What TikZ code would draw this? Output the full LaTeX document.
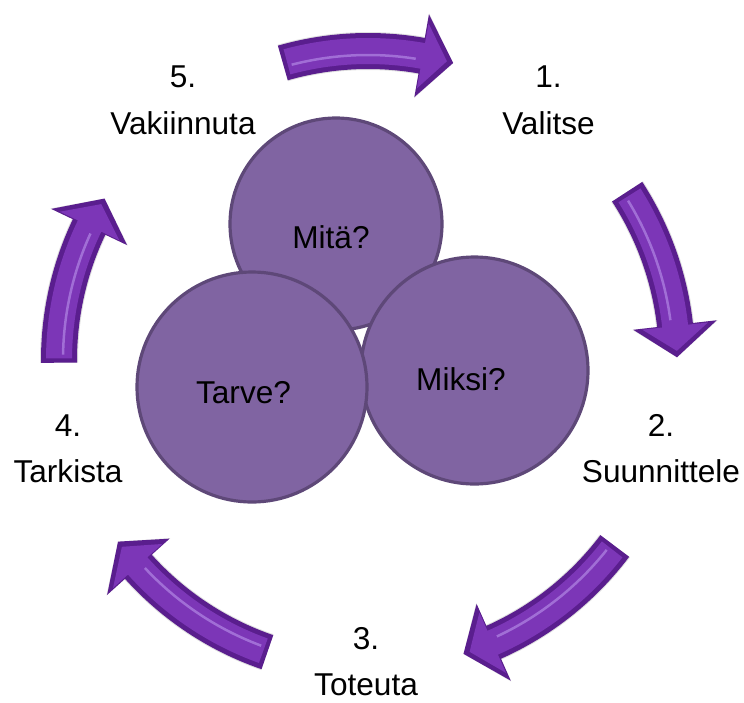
\documentclass[tikz,border=0pt]{standalone}
\usepackage{fontspec}
\setmainfont{Liberation Sans}
\usetikzlibrary{calc}

\definecolor{ringfill}{HTML}{8064A2}
\definecolor{ringline}{HTML}{5E4878}
\definecolor{arrowdark}{HTML}{5A1E8E}
\definecolor{arrowbody}{HTML}{7C36B7}
\definecolor{arrowlight}{HTML}{A878DC}

\tikzset{
  steplabel/.style={align=center, inner sep=0pt, text=black,
    font=\fontsize{31.6}{46.5}\selectfont},
  ring/.style={circle, draw=ringline, line width=3.2pt, fill=ringfill,
    inner sep=0pt},
  ringtext/.style={anchor=base, inner sep=0pt, text=black,
    font=\fontsize{31.6}{38}\selectfont},
}

% curved block arrow around (C): #1 tail angle, #2 tip angle,
% #3 shaft half width, #4 head half width, #5 head length (deg)
\newcommand\ringarrowpath[5]{%
  (C) ++(#1:309pt+#3) arc[start angle=#1, end angle=#2+#5, radius=309pt+#3]
  -- ($(C)+(#2+#5:309pt+#4)$) -- ($(C)+(#2:309pt)$)
  -- ($(C)+(#2+#5:309pt-#4)$) -- ($(C)+(#2+#5:309pt-#3)$)
  arc[start angle=#2+#5, end angle=#1, radius=309pt-#3] -- cycle}

\newcommand\ringarrow[2]{%
  \fill[black, opacity=0.12, shift={(2pt,-5pt)}] \ringarrowpath{#1}{#2}{19pt}{43pt}{6};
  \fill[arrowdark] \ringarrowpath{#1}{#2}{18pt}{42pt}{6};
  \fill[arrowbody] \ringarrowpath{#1-0.8}{#2+1.2}{13pt}{33pt}{4.6};
  \draw[arrowlight, line width=2.5pt, opacity=0.85]
    (C) ++(#1-1.5:305pt) arc[start angle=#1-1.5, end angle=#2+7, radius=305pt];
}

\begin{document}
\begin{tikzpicture}[x=1pt, y=1pt]
  \useasboundingbox (0,0) rectangle (744,-702);
  \coordinate (C) at (368,-360);

  % cycle arrows, clockwise
  \ringarrow{106}{74}
  \ringarrow{33}{0.5}
  \ringarrow{-37}{-72}
  \ringarrow{-109}{-144}
  \ringarrow{-179.5}{-211.5}

  % step labels
  \node[steplabel] (s1) at (548.5,-100.2) {1.\\Valitse};
  \node[steplabel] (s2) at (661,-448.7) {2.\\Suunnittele};
  \node[steplabel] (s3) at (366,-661.5) {3.\\Toteuta};
  \node[steplabel] (s4) at (68,-448.7) {4.\\Tarkista};
  \node[steplabel] (s5) at (183,-100.2) {5.\\Vakiinnuta};

  % central circles
  \node[ring, minimum size=212pt] (mita) at (336,-224) {};
  \node[ring, minimum size=227pt] (miksi) at (474.5,-370.5) {};
  \node[ring, minimum size=230pt] (tarve) at (252,-387) {};

  \node[ringtext] (tmita) at (331,-248) {Mitä?};
  \node[ringtext] (tmiksi) at (461,-390) {Miksi?};
  \node[ringtext] (ttarve) at (243.5,-403) {Tarve?};
\end{tikzpicture}
\end{document}
